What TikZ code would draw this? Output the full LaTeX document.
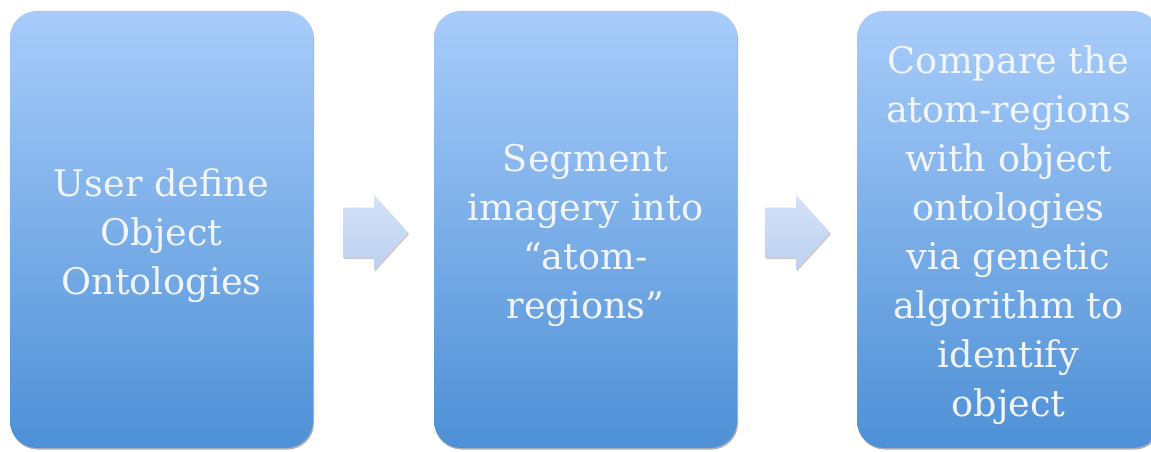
\documentclass[tikz,border=0pt]{standalone}
\usepackage{fontspec}
\setmainfont{DejaVu Serif}
\usetikzlibrary{shadows}
\definecolor{boxtop}{RGB}{168,204,250}
\definecolor{boxbottom}{RGB}{78,144,214}
\definecolor{arrowtop}{RGB}{212,226,248}
\definecolor{arrowbottom}{RGB}{190,208,240}
\definecolor{labeltext}{RGB}{242,246,252}
\tikzset{
  stepbox/.style={rounded corners=20pt, minimum width=227.25pt, minimum height=327.75pt,
    top color=boxtop, bottom color=boxbottom, draw=none, inner sep=0pt,
    drop shadow={shadow xshift=0.8pt, shadow yshift=-1.2pt, opacity=0.3, fill=black}},
  steptext/.style={text=labeltext, align=center, inner sep=0pt, yshift=-4.5pt,
    font=\fontsize{27.5}{36.75}\selectfont},
  blockarrow/.style={top color=arrowtop, bottom color=arrowbottom, draw=none,
    drop shadow={shadow xshift=0.8pt, shadow yshift=-1.2pt, opacity=0.2, fill=black}}
}
\begin{document}
\begin{tikzpicture}[x=0.75pt,y=0.75pt]
  \useasboundingbox (0,0) rectangle (1151,451);
  \clip (0,0) rectangle (1151,451);

  % process steps
  \node[stepbox, label={[steptext]center:User define\\Object\\Ontologies}]
    (define) at (161.5,221.5) {};
  \node[stepbox, label={[steptext]center:Segment\\imagery into\\“atom-\\regions”}]
    (segment) at (585.5,221.5) {};
  \node[stepbox, label={[steptext]center:Compare the\\atom-regions\\with object\\ontologies\\via genetic\\algorithm to\\identify\\object}]
    (compare) at (1008.5,221.5) {};

  % block arrows between the steps
  \coordinate (a1) at (343,218.5);
  \coordinate (a2) at (765,218.5);
  \foreach \a in {a1,a2}{
    \path[blockarrow] (\a) ++(0,25) -- ++(31,0) -- ++(0,12.5) -- ++(34,-37.5)
      -- ++(-34,-37.5) -- ++(0,12.5) -- ++(-31,0) -- cycle;
  }
\end{tikzpicture}
\end{document}
